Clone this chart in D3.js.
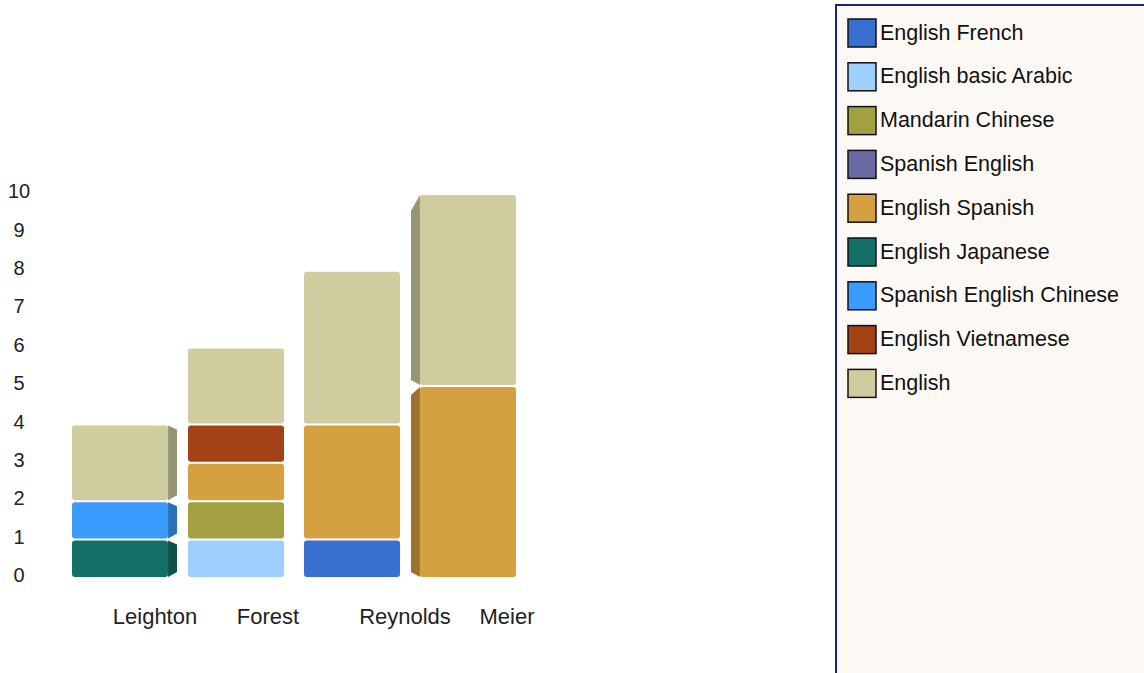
<!DOCTYPE html>
<html>
<head>
<meta charset="utf-8">
<script src="https://cdn.jsdelivr.net/npm/d3@7"></script>
<style>
  html, body { margin: 0; padding: 0; background: #fff; }
  svg { display: block; font-family: "Liberation Sans", Arial, sans-serif; }
</style>
</head>
<body>
<div id="chart"></div>
<script>
// categories on the x axis
const teachers = ['Leighton', 'Forest', 'Reynolds', 'Meier']
// series, bottom to top stacking order
const languages = ['English French', 'English basic Arabic', 'Mandarin Chinese', 'Spanish English',
  'English Spanish', 'English Japanese', 'Spanish English Chinese', 'English Vietnamese', 'English']
const colors = ['#3a6fd2', '#9fcfff', '#a2a040', '#6a6aa2', '#d4a040', '#137068', '#3c9bff', '#a24214', '#cfcda0']
// values per series, one per teacher
const englishFrench         = [0, 0, 1, 0]
const englishBasicArabic    = [0, 1, 0, 0]
const mandarinChinese       = [0, 1, 0, 0]
const spanishEnglish        = [0, 0, 0, 0]
const englishSpanish        = [0, 1, 3, 5]
const englishJapanese       = [1, 0, 0, 0]
const spanishEnglishChinese = [1, 0, 0, 0]
const englishVietnamese     = [0, 1, 0, 0]
const english               = [2, 2, 4, 5]
const yTicks = [0, 1, 2, 3, 4, 5, 6, 7, 8, 9, 10]

const seriesValues = [englishFrench, englishBasicArabic, mandarinChinese, spanishEnglish,
  englishSpanish, englishJapanese, spanishEnglishChinese, englishVietnamese, english]

const width = 1144
const height = 673

const svg = d3.select('#chart').append('svg')
  .attr('width', width)
  .attr('height', height)

// 构建堆叠数据
const table = teachers.map((t, i) => {
  const row = { teacher: t }
  languages.forEach((l, k) => { row[l] = seriesValues[k][i] })
  return row
})
const stacked = d3.stack().keys(languages)(table)

const x = d3.scaleBand()
  .domain(teachers)
  .range([72, 516])
  .paddingInner(0.172)
  .paddingOuter(0)

// 标签位置与柱子不对齐(原图如此)
const xLabel = d3.scaleOrdinal()
  .domain(teachers)
  .range([155, 268, 405, 507])

const y = d3.scaleLinear()
  .domain([0, 10])
  .range([578, 194])

// y 轴刻度
svg.append('g')
  .selectAll('text')
  .data(yTicks)
  .join('text')
  .attr('x', 19)
  .attr('y', d => y(d) - 1)
  .attr('text-anchor', 'middle')
  .attr('dominant-baseline', 'middle')
  .attr('font-size', 20)
  .attr('fill', '#222')
  .text(d => d)

// 3D 侧面: Leighton 右侧, Meier 左侧
const sideDir = { Leighton: 1, Meier: -1 }
const depth = 9

const bars = svg.append('g')
stacked.forEach((layer, k) => {
  layer.forEach((d, i) => {
    if (d[1] - d[0] <= 0) return
    const t = teachers[i]
    const x0 = x(t)
    const w = x.bandwidth()
    const yTop = y(d[1]) + 1
    const yBot = y(d[0]) - 1
    const dir = sideDir[t]
    if (dir) {
      const ex = dir > 0 ? x0 + w : x0
      const sx = ex + dir * depth
      const shrinkTop = dir > 0 ? 4 : 16 * (d[1] / 10)
      bars.append('path')
        .attr('d', `M${ex},${yTop}L${sx},${yTop + shrinkTop}L${sx},${yBot - 5}L${ex},${yBot}Z`)
        .attr('fill', d3.color(colors[k]).darker(0.9))
    }
    bars.append('rect')
      .attr('x', x0)
      .attr('y', yTop)
      .attr('width', w)
      .attr('height', yBot - yTop)
      .attr('rx', 3)
      .attr('fill', colors[k])
  })
})

// x 轴标签
svg.append('g')
  .selectAll('text')
  .data(teachers)
  .join('text')
  .attr('x', d => xLabel(d))
  .attr('y', 624)
  .attr('text-anchor', 'middle')
  .attr('font-size', 22)
  .attr('fill', '#222')
  .text(d => d)

// 图例
const legend = svg.append('g')
legend.append('rect')
  .attr('x', 836)
  .attr('y', 5)
  .attr('width', 330)
  .attr('height', 700)
  .attr('fill', '#fcf9f5')
  .attr('stroke', '#22226e')
  .attr('stroke-width', 2)

const item = legend.selectAll('g.item')
  .data(languages)
  .join('g')
  .attr('class', 'item')
  .attr('transform', (d, i) => `translate(848, ${19 + i * 43.8})`)
item.append('rect')
  .attr('width', 28)
  .attr('height', 28)
  .attr('fill', (d, i) => colors[i])
  .attr('stroke', '#111')
  .attr('stroke-width', 1.5)
item.append('text')
  .attr('x', 32)
  .attr('y', 15)
  .attr('dominant-baseline', 'middle')
  .attr('font-size', 21.5)
  .attr('fill', '#111')
  .text(d => d)
</script>
</body>
</html>
